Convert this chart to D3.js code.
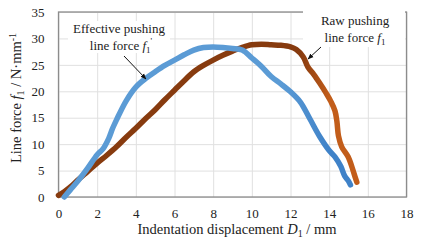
<!DOCTYPE html>
<html>
<head>
<meta charset="utf-8">
<script src="https://cdn.jsdelivr.net/npm/d3@7"></script>
<style>
  body { margin: 0; background: #fff; }
</style>
</head>
<body>
<svg id="chart" width="437" height="243"></svg>
<script>
// x ticks and y ticks
const xTicks = [0, 2, 4, 6, 8, 10, 12, 14, 16, 18];
const yTicks = [0, 5, 10, 15, 20, 25, 30, 35];

// effective pushing line force f1'
const effD = [0.3, 0.6, 1, 1.5, 2, 2.3, 2.6, 2.8, 3, 3.5, 4, 4.5, 5, 5.5, 6, 6.5, 7, 7.5, 8, 8.5, 9, 9.5, 10, 10.5, 11, 11.5, 12, 12.5, 13, 13.5, 14, 14.3, 14.6, 14.8, 15, 15.1];
const effF = [0, 1.3, 3, 5.4, 8, 9.1, 11.1, 13, 14.6, 18.2, 20.8, 22.4, 23.7, 24.9, 25.9, 26.9, 27.8, 28.3, 28.4, 28.3, 28.1, 27.8, 26.3, 24.7, 22.8, 21.4, 19.9, 18.0, 14.8, 11.5, 8.8, 7.6, 5.8, 4.0, 3.0, 2.3];

// raw pushing line force f1
const rawD = [0, 0.3, 0.65, 1, 1.5, 2, 2.5, 3, 3.5, 4, 4.5, 5, 5.5, 6, 6.5, 7, 7.5, 8, 8.5, 9, 9.5, 10, 10.5, 11, 11.5, 12, 12.3, 12.66, 12.9, 13.2, 13.5, 13.85, 14.1, 14.3, 14.4, 14.48, 14.65, 14.98, 15.23, 15.34, 15.43];
const rawF = [0.3, 1.0, 2.0, 3.2, 4.8, 6.4, 7.9, 9.5, 11.3, 13.0, 14.8, 16.5, 18.4, 20.2, 22.0, 23.7, 24.9, 25.9, 26.8, 27.6, 28.3, 28.8, 28.9, 28.8, 28.7, 28.4, 27.9, 26.5, 24.6, 23.2, 21.6, 19.6, 18.0, 16.3, 14.3, 11.6, 9.5, 7.6, 5.1, 3.8, 2.8];

const FONT = "'Liberation Serif', 'DejaVu Serif', serif";
const svg = d3.select("#chart");
const mLeft = 58.5, mRight = 406.5, mTop = 12, mBottom = 197;

const x = d3.scaleLinear().domain([0, 18]).range([mLeft, mRight]);
const y = d3.scaleLinear().domain([0, 35]).range([mBottom, mTop]);

// gradients so the dense marker tails look darker/oranger like the original
const defs = svg.append("defs");
const rawGrad = defs.append("linearGradient").attr("id", "raw-grad")
  .attr("gradientUnits", "userSpaceOnUse")
  .attr("x1", x(12.5)).attr("x2", x(14)).attr("y1", 0).attr("y2", 0);
rawGrad.append("stop").attr("offset", "0%").attr("stop-color", "#873b0f");
rawGrad.append("stop").attr("offset", "100%").attr("stop-color", "#c25d1a");
const effGrad = defs.append("linearGradient").attr("id", "eff-grad")
  .attr("gradientUnits", "userSpaceOnUse")
  .attr("x1", x(11.5)).attr("x2", x(14)).attr("y1", 0).attr("y2", 0);
effGrad.append("stop").attr("offset", "0%").attr("stop-color", "#5b9bd5");
effGrad.append("stop").attr("offset", "100%").attr("stop-color", "#3f82c8");

// grid
svg.append("g")
  .attr("transform", `translate(0,${mBottom})`)
  .call(d3.axisBottom(x).tickValues(xTicks).tickSize(-(mBottom - mTop)).tickFormat(""))
  .call(g => g.select(".domain").remove())
  .call(g => g.selectAll("line").attr("stroke", "#e0e0e0"));
svg.append("g")
  .attr("transform", `translate(${mLeft},0)`)
  .call(d3.axisLeft(y).tickValues(yTicks).tickSize(-(mRight - mLeft)).tickFormat(""))
  .call(g => g.select(".domain").remove())
  .call(g => g.selectAll("line").attr("stroke", "#e0e0e0"));

// plot border
svg.append("rect")
  .attr("x", mLeft).attr("y", mTop)
  .attr("width", mRight - mLeft).attr("height", mBottom - mTop)
  .attr("fill", "none").attr("stroke", "#8c8c8c").attr("stroke-width", 1.3);

// tick labels
const xAxis = svg.append("g")
  .attr("transform", `translate(0,${mBottom})`)
  .call(d3.axisBottom(x).tickValues(xTicks).tickSize(0).tickPadding(12));
xAxis.select(".domain").remove();
xAxis.selectAll("text").style("font-size", "13px").style("font-family", FONT).attr("fill", "#222");

const yAxis = svg.append("g")
  .attr("transform", `translate(${mLeft},0)`)
  .call(d3.axisLeft(y).tickValues(yTicks).tickSize(0).tickPadding(14));
yAxis.select(".domain").remove();
yAxis.selectAll("text").style("font-size", "13px").style("font-family", FONT).attr("fill", "#222");

// curves
const line = d3.line().x(d => x(d[0])).y(d => y(d[1])).curve(d3.curveCatmullRom);
const effPts = d3.zip(effD, effF);
const rawPts = d3.zip(rawD, rawF);

svg.append("path").datum(rawPts)
  .attr("d", line).attr("fill", "none")
  .attr("stroke", "url(#raw-grad)").attr("stroke-width", 5.5)
  .attr("stroke-linejoin", "round").attr("stroke-linecap", "round");
svg.append("path").datum(effPts)
  .attr("d", line).attr("fill", "none")
  .attr("stroke", "url(#eff-grad)").attr("stroke-width", 5.5)
  .attr("stroke-linejoin", "round").attr("stroke-linecap", "round");

// annotation: effective
svg.append("rect").attr("x", 68).attr("y", 21).attr("width", 102).attr("height", 32).attr("fill", "#fff");
const effLbl = svg.append("text").style("font-family", FONT).style("font-size", "13px")
  .attr("text-anchor", "middle").attr("fill", "#222");
effLbl.append("tspan").attr("x", 119).attr("y", 33).text("Effective pushing");
const effL2 = effLbl.append("tspan").attr("x", 121).attr("y", 50).text("line force ");
effL2.append("tspan").attr("font-style", "italic").text("f");
effL2.append("tspan").style("font-size", "9px").attr("dy", 3).text("1");
effL2.append("tspan").style("font-size", "9px").attr("dy", -9).text("'");

// annotation: raw
svg.append("rect").attr("x", 303).attr("y", 5).attr("width", 102).attr("height", 42).attr("fill", "#fff");
const rawLbl = svg.append("text").style("font-family", FONT).style("font-size", "13px")
  .attr("text-anchor", "middle").attr("fill", "#222");
rawLbl.append("tspan").attr("x", 355).attr("y", 25).text("Raw pushing");
const rawL2 = rawLbl.append("tspan").attr("x", 355).attr("y", 42).text("line force ");
rawL2.append("tspan").attr("font-style", "italic").text("f");
rawL2.append("tspan").style("font-size", "9px").attr("dy", 3).text("1");

// arrows
defs.append("marker").attr("id", "arrow")
  .attr("viewBox", "0 0 10 10").attr("refX", 9).attr("refY", 5)
  .attr("markerWidth", 6).attr("markerHeight", 6).attr("orient", "auto")
  .append("path").attr("d", "M0,1 L10,5 L0,9 Z").attr("fill", "#111");
svg.append("line").attr("x1", 124).attr("y1", 56).attr("x2", 146).attr("y2", 79)
  .attr("stroke", "#111").attr("stroke-width", 1).attr("marker-end", "url(#arrow)");
svg.append("line").attr("x1", 321).attr("y1", 47).attr("x2", 308).attr("y2", 59)
  .attr("stroke", "#111").attr("stroke-width", 1).attr("marker-end", "url(#arrow)");

// axis titles
const xt = svg.append("text").attr("x", 237).attr("y", 234).attr("text-anchor", "middle")
  .style("font-family", FONT).style("font-size", "14.5px").attr("fill", "#222");
xt.append("tspan").text("Indentation displacement ");
xt.append("tspan").attr("font-style", "italic").text("D");
xt.append("tspan").style("font-size", "10px").attr("dy", 3).text("1");
xt.append("tspan").attr("dy", -3).text(" / mm");

const yt = svg.append("text").attr("transform", "translate(21,98) rotate(-90)")
  .attr("text-anchor", "middle").style("font-family", FONT).style("font-size", "14.5px").attr("fill", "#222");
yt.append("tspan").text("Line force ");
yt.append("tspan").attr("font-style", "italic").text("f");
yt.append("tspan").style("font-size", "10px").attr("dy", 3).text("1");
yt.append("tspan").attr("dy", -3).text(" / N·mm");
yt.append("tspan").style("font-size", "10px").attr("dy", -5).text("-1");
</script>
</body>
</html>
